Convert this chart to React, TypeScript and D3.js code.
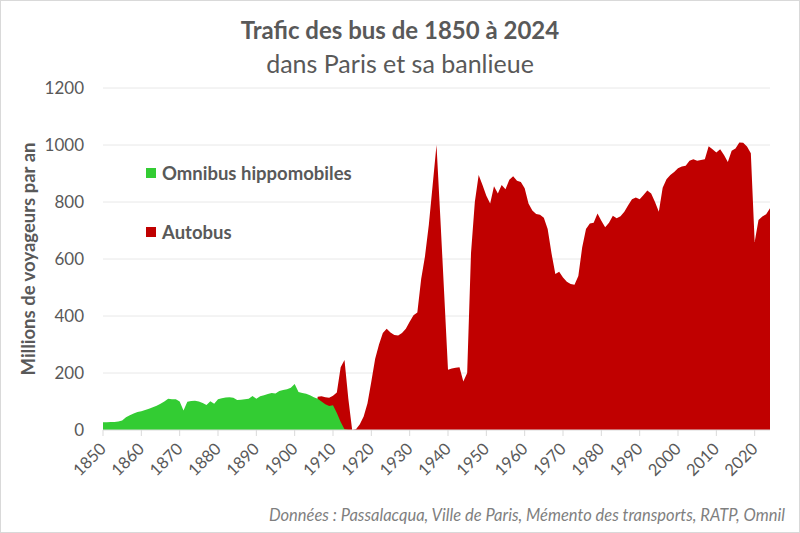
import { useMemo } from "react";
import * as d3 from "d3";

const omnibusYears = d3.range(1850, 1915);
const omnibusValues = [
  27, 27, 28, 28, 30, 33, 45, 52, 58, 63,
  66, 70, 75, 80, 85, 92, 100, 110, 108, 108,
  100, 68, 99, 102, 103, 100, 95, 88, 101, 92,
  108, 111, 114, 115, 113, 105, 106, 108, 110, 119,
  110, 118, 122, 126, 130, 128, 137, 140, 143, 148,
  161, 133, 130, 127, 122, 115, 110, 100, 90, 84,
  87, 60, 28, 3, 0,
];

const autobusYears = d3.range(1905, 2025);
const autobusValues = [
  0, 117, 118, 115, 113, 120, 132, 220, 246, 110,
  0, 3, 20, 47, 94, 170, 250, 300, 340, 355,
  342, 333, 332, 340, 355, 380, 403, 412, 530, 610,
  720, 860, 1000, 745, 480, 211, 216, 218, 220, 170,
  200, 620, 800, 895, 860, 822, 795, 855, 830, 860,
  845, 878, 890, 875, 870, 848, 795, 770, 758, 755,
  745, 705, 620, 547, 555, 535, 520, 512, 510, 540,
  640, 705, 725, 727, 760, 734, 711, 727, 752, 743,
  750, 766, 789, 810, 816, 810, 825, 840, 830, 800,
  766, 850, 880, 895, 905, 918, 925, 927, 945, 950,
  945, 947, 950, 996, 985, 974, 985, 965, 940, 980,
  988, 1009, 1008, 995, 971, 660, 737, 749, 757, 778,
];

const yTicks = [0, 200, 400, 600, 800, 1000, 1200];
const xTicks = d3.range(1850, 2021, 10);

const seriesNames = ["Omnibus hippomobiles", "Autobus"];
const seriesColors = ["#33cc33", "#c00000"];

const font = "Lato, 'Open Sans', sans-serif";
const textGrey = "#595959";

export default function App() {
  const width = 800;
  const height = 533;
  const margin = { left: 103, right: 30, top: 88, bottom: 103 };

  const x = useMemo(
    () => d3.scaleLinear().domain([1850, 2024]).range([margin.left, width - margin.right]),
    []
  );
  const y = useMemo(
    () => d3.scaleLinear().domain([0, 1200]).range([height - margin.bottom, margin.top]),
    []
  );

  const area = d3
    .area<[number, number]>()
    .x((d) => x(d[0]))
    .y0(y(0))
    .y1((d) => y(d[1]));

  const omnibus = omnibusYears.map((yr, i) => [yr, omnibusValues[i]] as [number, number]);
  const autobus = autobusYears.map((yr, i) => [yr, autobusValues[i]] as [number, number]);

  return (
    <svg
      width={width}
      height={height}
      style={{ position: "absolute", left: 0, top: 0, background: "#fff" }}
      fontFamily={font}
    >
      <rect x={0.5} y={0.5} width={width - 1} height={height - 1} fill="#fff" stroke="#d9d9d9" />

      <text x={400} y={39} textAnchor="middle" fontSize={24} fontWeight={700} fill={textGrey}>
        Trafic des bus de 1850 à 2024
      </text>
      <text x={400} y={73} textAnchor="middle" fontSize={25} fill={textGrey}>
        dans Paris et sa banlieue
      </text>

      {yTicks.map((t) => (
        <g key={t}>
          {t > 0 && (
            <line x1={x(1850)} x2={x(2024)} y1={y(t)} y2={y(t)} stroke="#e8e8e8" strokeWidth={1} />
          )}
          <text x={84} y={y(t) + 6} textAnchor="end" fontSize={17} fill={textGrey}>
            {t}
          </text>
        </g>
      ))}

      <path d={area(autobus) ?? ""} fill={seriesColors[1]} />
      <path d={area(omnibus) ?? ""} fill={seriesColors[0]} />

      <line x1={x(1850)} x2={x(2024)} y1={y(0)} y2={y(0)} stroke="#d9d9d9" strokeWidth={1.2} />
      {xTicks.map((t) => (
        <g key={t}>
          <line x1={x(t)} x2={x(t)} y1={y(0)} y2={y(0) + 6} stroke="#d9d9d9" />
          <text
            transform={`translate(${x(t) + 4},${y(0) + 20}) rotate(-45)`}
            textAnchor="end"
            fontSize={16.5}
            fill={textGrey}
          >
            {t}
          </text>
        </g>
      ))}

      <text
        transform={`translate(35,${(y(0) + y(1200)) / 2}) rotate(-90)`}
        textAnchor="middle"
        fontSize={18.5}
        fontWeight={700}
        fill={textGrey}
      >
        Millions de voyageurs par an
      </text>

      {seriesNames.map((name, i) => (
        <g key={name} transform={`translate(146,${168 + i * 59})`}>
          <rect x={0} y={0} width={10} height={10} fill={seriesColors[i]} />
          <text x={16} y={11.5} fontSize={18.5} fontWeight={700} fill={textGrey}>
            {name}
          </text>
        </g>
      ))}

      <text x={785} y={521} textAnchor="end" fontSize={16.5} fontStyle="italic" fill="#7f7f7f">
        Données : Passalacqua, Ville de Paris, Mémento des transports, RATP, Omnil
      </text>
    </svg>
  );
}
